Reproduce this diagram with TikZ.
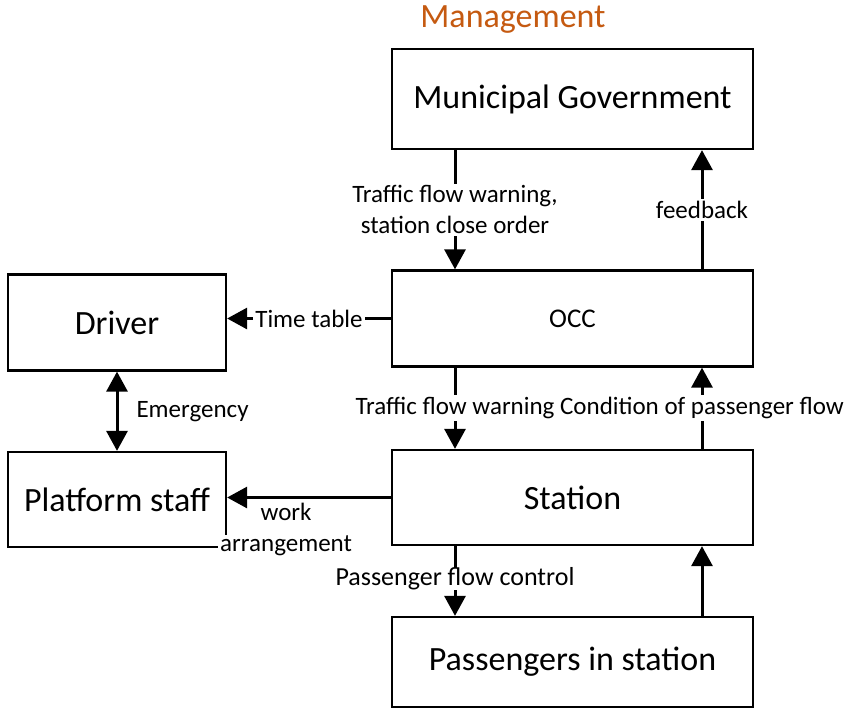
\documentclass[tikz,border=0pt]{standalone}
\usepackage{fontspec}
\setmainfont{Carlito}
\usetikzlibrary{arrows.meta,calc}
\definecolor{mgmtorange}{RGB}{197,90,17}
\begin{document}
\begin{tikzpicture}[x=1pt,y=-1pt,
  box/.style={draw=black, line width=2.3pt, rectangle, inner sep=0pt,
    font=\fontsize{34}{39}\selectfont},
  bigbox/.style={box, minimum width=361pt},
  smallbox/.style={box, minimum width=218pt},
  bigtip/.tip={Triangle[length=20pt,width=21pt]},
  arr/.style={line width=3pt, -bigtip},
  biarr/.style={line width=3pt, bigtip-bigtip},
  lbl/.style={font=\fontsize{25}{31}\selectfont, inner sep=2pt, align=center},
  lblw/.style={lbl, fill=white}
]
\useasboundingbox (0,0) rectangle (851,709);

% heading
\node[font=\fontsize{34}{40}\selectfont, text=mgmtorange] (head) at (513,20) {Management};

% boxes
\node[bigbox, minimum height=100pt] (mg)  at (572.5,99)   {Municipal Government};
\node[bigbox, minimum height=96pt, font=\fontsize{27}{32}\selectfont] (occ) at (572.5,318.5) {OCC};
\node[bigbox, minimum height=95pt]  (st)  at (572.5,497.5) {Station};
\node[bigbox, minimum height=90pt]  (pas) at (572.5,662)   {Passengers in station};
\node[smallbox, minimum height=96pt] (drv) at (117,322.5) {Driver};
\node[smallbox, minimum height=95pt] (pls) at (117,499.5) {Platform staff};

% columns of the vertical connectors
\coordinate (L) at (455,0);
\coordinate (R) at (702,0);

% Municipal Government <-> OCC
\draw[arr] (mg.south -| L) -- node[lblw] {Traffic flow warning,\\station close order} (occ.north -| L);
\draw[arr] (occ.north -| R) -- node[lblw] {feedback} (mg.south -| R);

% OCC -> Driver
\draw[arr] (occ.west) -- node[lblw] {Time table} (drv.east |- occ.west);

% Driver <-> Platform staff
\draw[biarr] (drv.south) -- node[lbl, anchor=west, xshift=16pt] {Emergency} (pls.north);

% OCC <-> Station
\draw[arr] (occ.south -| L) -- node[lblw] {Traffic flow warning} (st.north -| L);
\draw[arr] (st.north -| R) -- node[lblw] {Condition of passenger flow} (occ.south -| R);

% Station -> Platform staff, with its two-line label below the arrow
\node[lbl, anchor=base] (wa1) at ($(st.west)!0.64!(pls.east |- st.west)+(0,23)$) {work};
\node[lblw, anchor=base, inner ysep=1pt] (wa2) at ($(wa1.base)+(0,31)$) {arrangement};
\draw[arr] (st.west) -- (pls.east |- st.west);

% Station <-> Passengers in station
\draw[arr] (st.south -| L) -- node[lblw, inner ysep=0pt, yshift=2pt, font=\fontsize{26}{31}\selectfont] {Passenger flow control} (pas.north -| L);
\draw[arr] (pas.north -| R) -- (st.south -| R);
\end{tikzpicture}
\end{document}
